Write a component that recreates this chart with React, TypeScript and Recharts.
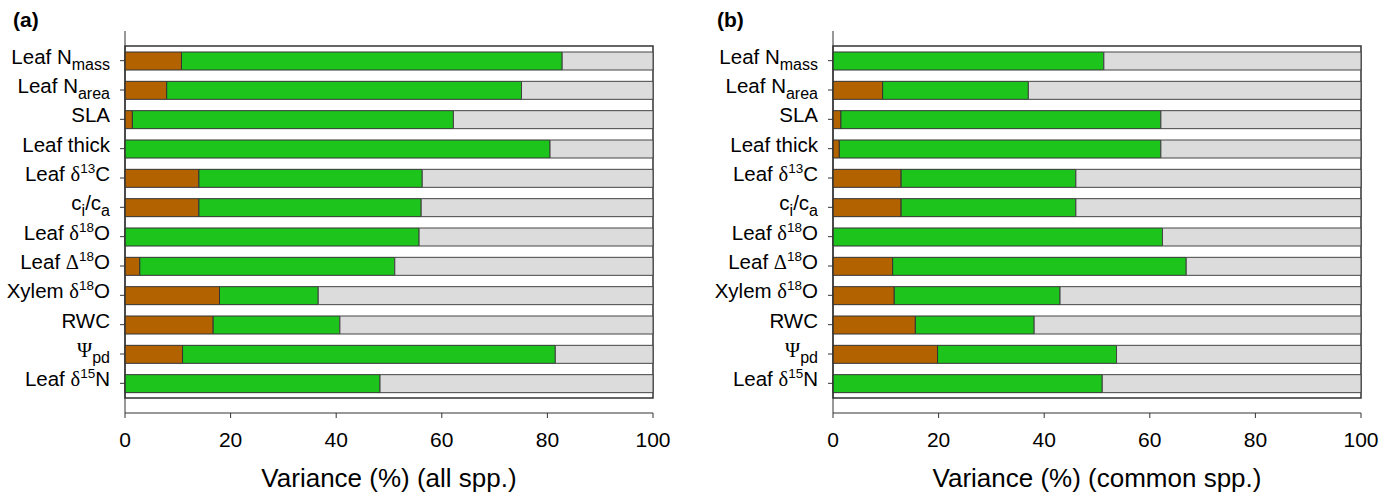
import React from "react";
import {
  BarChart,
  Bar,
  XAxis,
  YAxis,
  ReferenceArea,
} from "recharts";

// trait labels, top to bottom
const traits = [
  "Leaf Nmass",
  "Leaf Narea",
  "SLA",
  "Leaf thick",
  "Leaf d13C",
  "ci/ca",
  "Leaf d18O",
  "Leaf D18O",
  "Xylem d18O",
  "RWC",
  "Psi pd",
  "Leaf d15N",
];

// [text, "sub" | "sup" | "", serif glyph?]
const traitParts: Record<string, [string, string, boolean?][]> = {
  "Leaf Nmass": [["Leaf N", ""], ["mass", "sub"]],
  "Leaf Narea": [["Leaf N", ""], ["area", "sub"]],
  SLA: [["SLA", ""]],
  "Leaf thick": [["Leaf thick", ""]],
  "Leaf d13C": [["Leaf ", ""], ["δ", "", true], ["13", "sup"], ["C", ""]],
  "ci/ca": [["c", ""], ["i", "sub"], ["/c", ""], ["a", "sub"]],
  "Leaf d18O": [["Leaf ", ""], ["δ", "", true], ["18", "sup"], ["O", ""]],
  "Leaf D18O": [["Leaf ", ""], ["Δ", "", true], ["18", "sup"], ["O", ""]],
  "Xylem d18O": [["Xylem ", ""], ["δ", "", true], ["18", "sup"], ["O", ""]],
  RWC: [["RWC", ""]],
  "Psi pd": [["Ψ", "", true], ["pd", "sub"]],
  "Leaf d15N": [["Leaf ", ""], ["δ", "", true], ["15", "sup"], ["N", ""]],
};

// (a) all species
const allBrown = [10.7, 7.9, 1.4, 0, 14.0, 14.0, 0, 2.8, 17.9, 16.7, 10.9, 0];
const allGreen = [72.1, 67.2, 60.8, 80.5, 42.3, 42.1, 55.7, 48.3, 18.7, 24.0, 70.6, 48.3];
const allGray = [17.2, 24.9, 37.8, 19.5, 43.7, 43.9, 44.3, 48.9, 63.4, 59.3, 18.5, 51.7];

// (b) common species
const comBrown = [0, 9.4, 1.5, 1.2, 12.9, 12.9, 0, 11.3, 11.6, 15.6, 19.8, 0];
const comGreen = [51.3, 27.6, 60.6, 60.9, 33.1, 33.1, 62.4, 55.6, 31.4, 22.5, 33.9, 51.0];
const comGray = [48.7, 63.0, 37.9, 37.9, 54.0, 54.0, 37.6, 33.1, 57.0, 61.9, 46.3, 49.0];

const xTicks = [0, 20, 40, 60, 80, 100];

const dataA = traits.map((t, i) => ({ trait: t, brown: allBrown[i], green: allGreen[i], gray: allGray[i] }));
const dataB = traits.map((t, i) => ({ trait: t, brown: comBrown[i], green: comGreen[i], gray: comGray[i] }));

const FONT = "'Liberation Sans', Arial, sans-serif";
const SERIF = "'Liberation Serif', 'DejaVu Serif', serif";

const TraitTick = (props: any) => {
  const { x, y, payload } = props;
  const parts = traitParts[payload.value] || [[payload.value, ""]];
  let shift = 0;
  return (
    <text x={x} y={y + 3} textAnchor="end" fill="#000" fontSize={20.5} fontFamily={FONT}>
      {parts.map(([txt, kind, serif], i) => {
        const target = kind === "sub" ? 6 : kind === "sup" ? -8 : 0;
        const dy = target - shift;
        shift = target;
        return (
          <tspan
            key={i}
            dy={dy}
            fontSize={kind === "sub" ? 16 : kind === "sup" ? 13.5 : 20.5}
            fontFamily={serif ? SERIF : FONT}
          >
            {txt}
          </tspan>
        );
      })}
    </text>
  );
};

const Panel = ({ data, title, yWidth, right }: any) => (
  <BarChart
    width={700}
    height={494}
    data={data}
    layout="vertical"
    margin={{ top: 31, right: right, left: 6, bottom: 0 }}
    barSize={18}
  >
    <XAxis
      type="number"
      domain={[0, 100]}
      ticks={xTicks}
      tickSize={5}
      tickMargin={14}
      height={81}
      stroke="#333"
      tick={{ fill: "#000", fontSize: 21, fontFamily: FONT }}
      label={({ viewBox }: any) => (
        <text
          x={viewBox.x + viewBox.width / 2}
          y={viewBox.y + 74}
          textAnchor="middle"
          fontSize={26}
          fontFamily={FONT}
          fill="#000"
        >
          {title}
        </text>
      )}
    />
    <YAxis
      type="category"
      dataKey="trait"
      width={yWidth}
      tickSize={5}
      tickMargin={10}
      stroke="#333"
      padding={{ top: 15, bottom: 15 }}
      tick={<TraitTick />}
      interval={0}
    />
    <Bar dataKey="brown" stackId="s" fill="#B36200" stroke="#333" strokeWidth={1} isAnimationActive={false} />
    <Bar dataKey="green" stackId="s" fill="#1CC41C" stroke="#333" strokeWidth={1} isAnimationActive={false} />
    <Bar dataKey="gray" stackId="s" fill="#DCDCDC" stroke="#444" strokeWidth={1} isAnimationActive={false} />
    <ReferenceArea x1={0} x2={100} fill="none" stroke="#333" strokeWidth={1.5} />
  </BarChart>
);

export default function App() {
  return (
    <div style={{ position: "absolute", left: 0, top: 0, width: 1397, height: 494, background: "#fff" }}>
      <div style={{ position: "absolute", left: 13, top: 8, fontFamily: FONT, fontWeight: "bold", fontSize: 21 }}>(a)</div>
      <div style={{ position: "absolute", left: 717, top: 8, fontFamily: FONT, fontWeight: "bold", fontSize: 21 }}>(b)</div>
      <div style={{ position: "absolute", left: 0, top: 0 }}>
        <Panel data={dataA} title="Variance (%) (all spp.)" yWidth={119} right={47} />
      </div>
      <div style={{ position: "absolute", left: 700, top: 0 }}>
        <Panel data={dataB} title="Variance (%) (common spp.)" yWidth={127} right={39} />
      </div>
    </div>
  );
}
